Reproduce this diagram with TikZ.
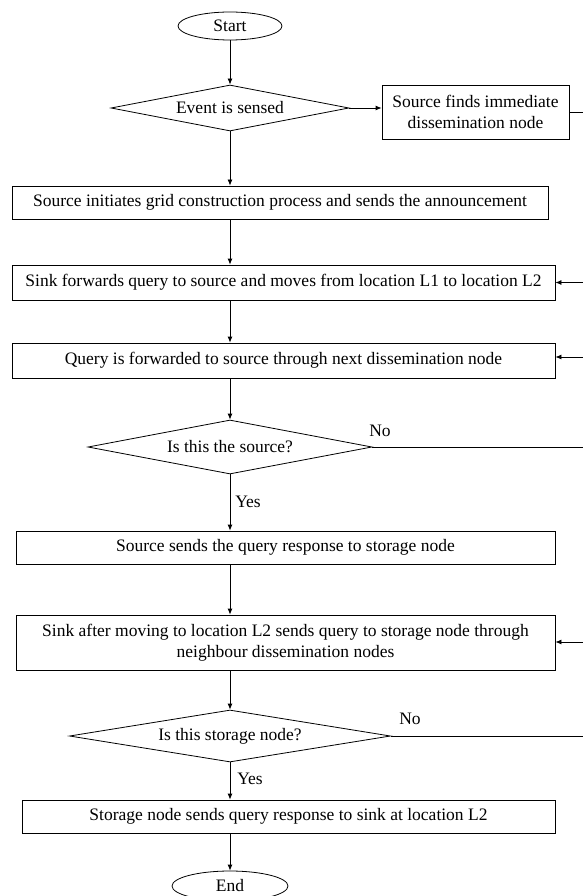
\documentclass[tikz,border=0pt]{standalone}
\usepackage{fontspec}
\setmainfont{Liberation Serif}
\usetikzlibrary{shapes.geometric,arrows.meta}
\begin{document}
\begin{tikzpicture}[x=1pt,y=-1pt,
  every node/.style={font=\fontsize{17.5}{21}\selectfont},
  box/.style={draw,thick,rectangle,inner sep=0pt,align=center},
  dec/.style={draw,thick,diamond,inner sep=0pt},
  term/.style={draw,thick,ellipse,inner sep=0pt},
  lbl/.style={inner sep=0pt},
  arr/.style={thick,-{Latex[length=6pt,width=5pt]}},
  ln/.style={thick}]
\useasboundingbox (0,0) rectangle (583,896);
\node[term,minimum width=104,minimum height=28] (start) at (230,26) {Start};
\node[dec,aspect=5.2,minimum width=238,minimum height=46] (d1) at (230,108) {Event is sensed};
\node[box,minimum width=187,minimum height=54] (find) at (475.5,112) {Source finds immediate\\dissemination node};
\node[box,minimum width=536,minimum height=33] (b2) at (280,202.5) {Source initiates grid construction process and sends the announcement};
\node[box,minimum width=543,minimum height=35] (b3) at (283.5,282.5) {Sink forwards query to source and moves from location L1 to location L2};
\node[box,minimum width=543,minimum height=35] (b4) at (283.5,360.5) {Query is forwarded to source through next dissemination node};
\node[dec,aspect=5.26,minimum width=284,minimum height=54] (d2) at (230,447) {Is this the source?};
\node[box,minimum width=539,minimum height=33] (b5) at (285.5,547.5) {Source sends the query response to storage node};
\node[box,minimum width=539,minimum height=55] (b6) at (285.5,642.5) {Sink after moving to location L2 sends query to storage node through\\neighbour dissemination nodes};
\node[dec,aspect=6.2,minimum width=321,minimum height=52] (d3) at (230,736) {Is this storage node?};
\node[box,minimum width=533,minimum height=33] (b7) at (288.5,816.5) {Storage node sends query response to sink at location L2};
\node[term,minimum width=116,minimum height=30] (end) at (230,886) {End};
\node[lbl] (no1) at (380,431) {No};
\node[lbl] (yes1) at (248,502) {Yes};
\node[lbl] (no2) at (410,719) {No};
\node[lbl] (yes2) at (250,779) {Yes};
\coordinate (r1) at (583,112);
\coordinate (r3) at (583,282.5);
\coordinate (r4) at (583,357);
\coordinate (r6) at (583,642);
\coordinate (rd2) at (583,447);
\coordinate (rd3) at (583,736);
\draw[arr] (start.south) -- (start.south |- d1.north);
\draw[arr] (d1.east) -- (find.west |- d1.east);
\draw[ln] (find.east) -- (r1);
\draw[arr] (d1.south) -- (d1.south |- b2.north);
\draw[arr] (d1.south |- b2.south) -- (d1.south |- b3.north);
\draw[arr] (d1.south |- b3.south) -- (d1.south |- b4.north);
\draw[arr] (d1.south |- b4.south) -- (d2.north);
\draw[arr] (d2.south) -- (d2.south |- b5.north);
\draw[arr] (d2.south |- b5.south) -- (d2.south |- b6.north);
\draw[arr] (d2.south |- b6.south) -- (d3.north);
\draw[arr] (d3.south) -- (d3.south |- b7.north);
\draw[arr] (d3.south |- b7.south) -- (end.north);
\draw[arr] (r3) -- (b3.east |- r3);
\draw[arr] (r4) -- (b4.east |- r4);
\draw[arr] (r6) -- (b6.east |- r6);
\draw[ln] (d2.east) -- (rd2);
\draw[ln] (d3.east) -- (rd3);
\end{tikzpicture}
\end{document}
